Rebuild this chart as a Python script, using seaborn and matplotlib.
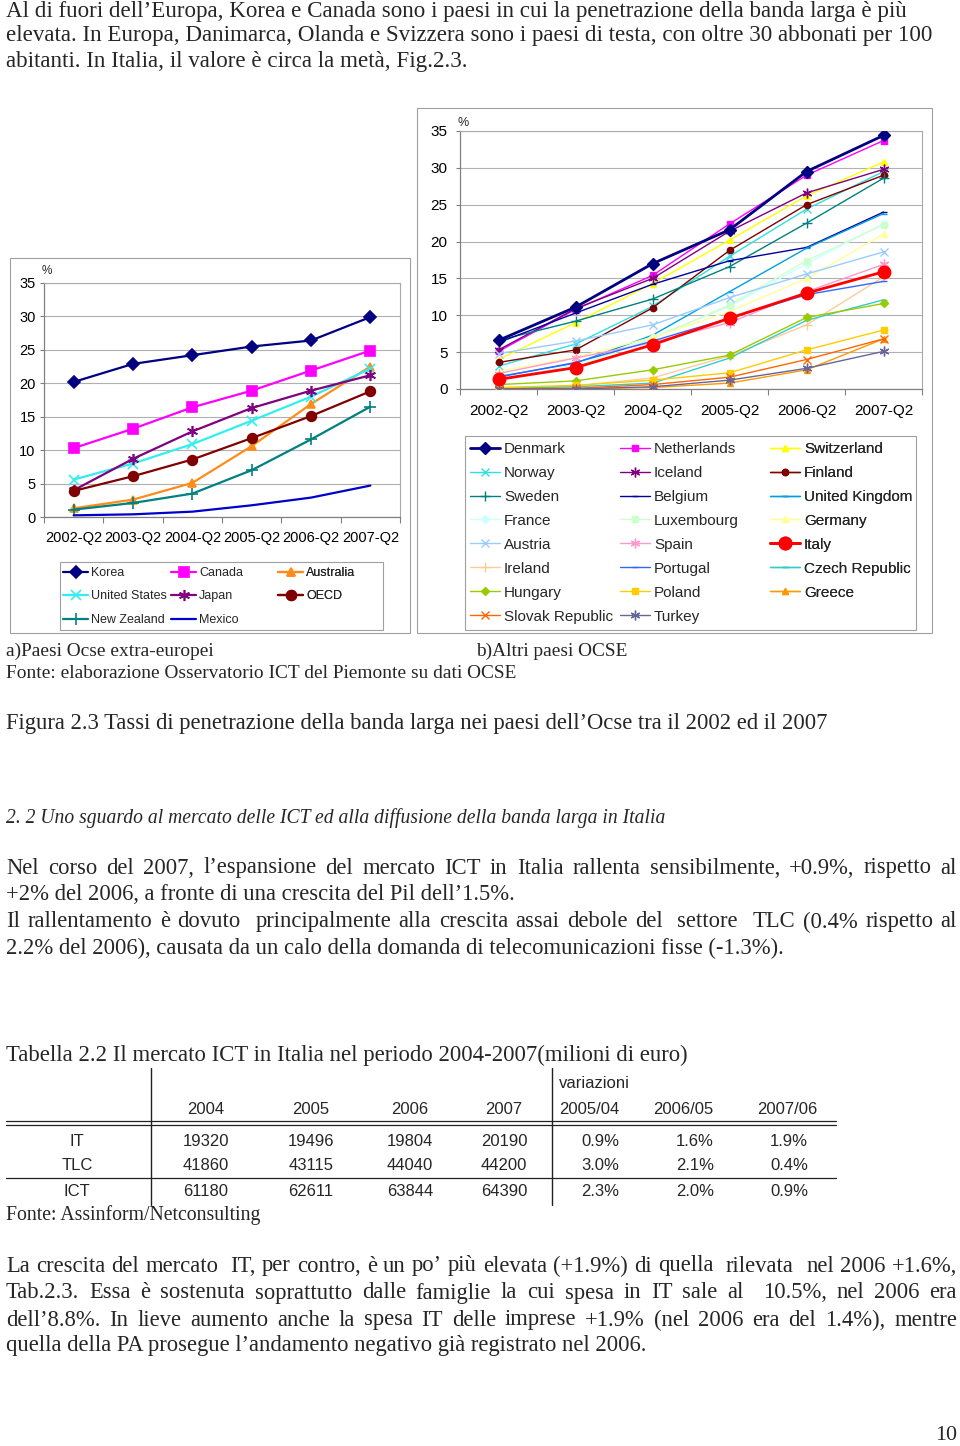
import numpy as np
import pandas as pd
import matplotlib.pyplot as plt
import matplotlib.patches as mpatches
from matplotlib.lines import Line2D
import seaborn as sns

W, H = 960, 1446

quarters = ["2002-Q2", "2003-Q2", "2004-Q2", "2005-Q2", "2006-Q2", "2007-Q2"]

# a) Paesi Ocse extra-europei (abbonati per 100 abitanti)
korea = [20.2, 22.9, 24.2, 25.5, 26.4, 29.9]
canada = [10.3, 13.2, 16.4, 18.9, 21.9, 24.9]
australia = [1.3, 2.6, 5.1, 10.6, 16.9, 22.5]
united_states = [5.6, 8.0, 10.9, 14.4, 18.0, 22.2]
japan = [4.0, 8.7, 12.8, 16.3, 18.9, 21.2]
oecd = [3.9, 6.1, 8.6, 11.8, 15.1, 18.8]
new_zealand = [1.1, 2.1, 3.5, 7.0, 11.6, 16.5]
mexico = [0.25, 0.4, 0.8, 1.75, 2.9, 4.7]

# b) Altri paesi OCSE
denmark = [6.6, 11.1, 17.0, 21.6, 29.5, 34.4]
netherlands = [5.1, 10.8, 15.4, 22.4, 29.0, 33.7]
switzerland = [4.0, 9.0, 14.3, 20.2, 26.2, 30.8]
norway = [3.1, 6.1, 11.2, 18.0, 24.4, 29.5]
iceland = [5.3, 10.9, 15.0, 21.4, 26.6, 29.8]
finland = [3.6, 5.3, 11.0, 18.8, 25.0, 29.0]
sweden = [6.6, 9.2, 12.2, 16.6, 22.5, 28.6]
belgium = [6.3, 10.3, 14.2, 17.4, 19.2, 24.0]
united_kingdom = [1.7, 3.5, 7.3, 13.2, 19.1, 23.8]
france = [1.1, 3.3, 7.0, 11.2, 17.0, 22.4]
luxembourg = [1.4, 3.0, 6.8, 11.4, 17.4, 22.3]
germany = [2.4, 4.3, 7.0, 10.5, 15.0, 21.0]
austria = [4.8, 6.5, 8.7, 12.4, 15.6, 18.6]
spain = [2.1, 4.2, 6.3, 9.0, 13.2, 16.9]
italy = [1.3, 2.9, 6.0, 9.6, 13.0, 15.9]
ireland = [0.1, 0.4, 1.5, 4.5, 8.7, 15.2]
portugal = [1.6, 3.6, 6.5, 9.6, 12.8, 14.6]
czech_republic = [0.1, 0.3, 0.8, 4.2, 9.3, 12.1]
hungary = [0.6, 1.1, 2.6, 4.6, 9.7, 11.6]
poland = [0.2, 0.5, 1.2, 2.2, 5.3, 8.0]
greece = [0.0, 0.05, 0.2, 0.8, 2.6, 6.8]
slovak_republic = [0.0, 0.1, 0.6, 1.6, 4.0, 6.8]
turkey = [0.0, 0.0, 0.3, 1.2, 2.8, 5.1]

# Tabella 2.2
table_years = ["2004", "2005", "2006", "2007"]
table_changes = ["2005/04", "2006/05", "2007/06"]
table_rows = ["IT", "TLC", "ICT"]
it_values = [19320, 19496, 19804, 20190]
tlc_values = [41860, 43115, 44040, 44200]
ict_values = [61180, 62611, 63844, 64390]
it_changes = [0.9, 1.6, 1.9]
tlc_changes = [3.0, 2.1, 0.4]
ict_changes = [2.3, 2.0, 0.9]

sns.set_theme(style="white")
plt.rcParams['font.family'] = ['Liberation Sans', 'DejaVu Sans']

fig = plt.figure(figsize=(W / 100, H / 100), dpi=100)
renderer = fig.canvas.get_renderer()


def fx(x):
    return x / W


def fy(y):
    return 1 - y / H


def width_px(s, size, **kw):
    if not s:
        return 0.0
    t = fig.text(0, 0, s, fontsize=size, **kw)
    w = t.get_window_extent(renderer=renderer).width
    t.remove()
    return w


def fit(s, target, **kw):
    return 12 * target / width_px(s, 12, **kw)


def put(s, x, y, size, ha='left', **kw):
    fig.text(fx(x), fy(y), s, fontsize=size, ha=ha, va='center', **kw)


def justify(s, y, size, x0=6, x1=957, **kw):
    words = s.split(' ')
    ws = [width_px(w, size, **kw) for w in words]
    gap = (x1 - x0 - sum(ws)) / (len(words) - 1)
    x = x0
    for w, wd in zip(words, ws):
        if w:
            put(w, x, y, size, **kw)
        x += wd + gap


def frame(x0, y0, x1, y1, color='#a0a0a0'):
    fig.add_artist(mpatches.Rectangle((fx(x0), fy(y1)), fx(x1) - fx(x0), fy(y0) - fy(y1),
                                      transform=fig.transFigure, fill=False,
                                      edgecolor=color, linewidth=0.8))


def hline(x0, x1, y, lw=1.0):
    fig.add_artist(Line2D([fx(x0), fx(x1)], [fy(y), fy(y)], transform=fig.transFigure,
                          color='#222222', linewidth=lw))


def vline(x, y0, y1, lw=1.0):
    fig.add_artist(Line2D([fx(x), fx(x)], [fy(y0), fy(y1)], transform=fig.transFigure,
                          color='#222222', linewidth=lw))


def style_axes(ax, tick_size, ypad, xpad):
    ax.set_ylim(0, 35)
    ax.set_xlim(-0.5, 5.5)
    ax.set_yticks(range(0, 36, 5))
    ax.set_xticks(range(6))
    ax.set_xticks(np.arange(-0.5, 6, 1), minor=True)
    ax.set_xticklabels(quarters)
    ax.yaxis.grid(True, color='#b0b0b0', linewidth=0.8)
    ax.set_axisbelow(True)
    for side in ['top', 'right']:
        ax.spines[side].set_color('#a8a8a8')
        ax.spines[side].set_linewidth(0.8)
    for side in ['left', 'bottom']:
        ax.spines[side].set_color('#808080')
        ax.spines[side].set_linewidth(0.9)
    ax.tick_params(axis='y', labelsize=tick_size, length=3, width=0.8, color='#808080',
                   pad=ypad, left=True, labelcolor='black')
    ax.tick_params(axis='x', which='major', labelsize=tick_size, length=0, pad=xpad,
                   labelcolor='black')
    ax.tick_params(axis='x', which='minor', length=4, width=0.8, color='#808080', bottom=True)
    ax.set_xlabel('')
    ax.set_ylabel('')


def grid_legend(ax, box, col_x, top_y, size, handlelength, textpad, spacing, ncol=3):
    # Excel-style legend: equal-width columns, entries filled row by row
    frame(*box)
    handles, labels = ax.get_legend_handles_labels()
    for c in range(ncol):
        leg = ax.legend(handles[c::ncol], labels[c::ncol], loc='upper left',
                        bbox_to_anchor=(fx(col_x[c]), fy(top_y)),
                        bbox_transform=fig.transFigure, frameon=False, borderpad=0,
                        borderaxespad=0, handlelength=handlelength, handletextpad=textpad,
                        labelspacing=spacing, prop={'size': size})
        ax.add_artist(leg)


# ---------- a) left chart ----------
frame(10, 258, 410, 633)
axl = fig.add_axes([fx(44), fy(517), fx(400) - fx(44), fy(283) - fy(517)])
left_series = [
    ("Korea", korea, "#000080", "D", 6, 1.6),
    ("Canada", canada, "#ff00ff", "s", 6.5, 1.6),
    ("Australia", australia, "#ff8c1a", "^", 6, 1.6),
    ("United States", united_states, "#33eeee", "x", 7, 1.6),
    ("Japan", japan, "#800080", (6, 2, 0), 8, 1.6),
    ("OECD", oecd, "#800000", "o", 7, 1.6),
    ("New Zealand", new_zealand, "#008080", "+", 8, 1.6),
    ("Mexico", mexico, "#0000cc", "", 0, 1.6),
]
for name, vals, col, mk, ms, lw in left_series:
    sns.lineplot(x=quarters, y=vals, ax=axl, color=col, marker=mk, markersize=ms,
                 markeredgecolor=col, markeredgewidth=1.2, linewidth=lw, label=name, sort=False)
style_axes(axl, 10.5, 3, 10)
axl.legend_ = None
grid_legend(axl, (60, 562, 383, 630), [63, 171, 278], 567, 9, 2.0, 0.25, 0.92)
put("%", 42, 271, 8.5)

# ---------- b) right chart ----------
frame(417, 108, 932, 633)
axr = fig.add_axes([fx(460), fy(389), fx(922) - fx(460), fy(131) - fy(389)])
right_series = [
    ("Denmark", denmark, "#000080", "D", 6.5, 2.0),
    ("Netherlands", netherlands, "#ff00ff", "s", 5, 1.0),
    ("Switzerland", switzerland, "#ffff00", "^", 5, 1.0),
    ("Norway", norway, "#2ee0e0", "x", 5.5, 1.0),
    ("Iceland", iceland, "#800080", (6, 2, 0), 7, 1.0),
    ("Finland", finland, "#800000", "o", 4.5, 1.0),
    ("Sweden", sweden, "#008080", "+", 6.5, 1.0),
    ("Belgium", belgium, "#0000a0", "_", 5, 1.0),
    ("United Kingdom", united_kingdom, "#00a0e0", "_", 5, 1.0),
    ("France", france, "#ccffff", "D", 4, 1.0),
    ("Luxembourg", luxembourg, "#ccffcc", "s", 5, 1.0),
    ("Germany", germany, "#ffff99", "^", 5, 1.0),
    ("Austria", austria, "#99ccff", "x", 5.5, 1.0),
    ("Spain", spain, "#ff99cc", (6, 2, 0), 7, 1.0),
    ("Italy", italy, "#ff0000", "o", 9, 2.0),
    ("Ireland", ireland, "#ffcc99", "+", 6.5, 1.0),
    ("Portugal", portugal, "#3366ff", "_", 5, 1.0),
    ("Czech Republic", czech_republic, "#33cccc", "_", 5, 1.0),
    ("Hungary", hungary, "#99cc00", "D", 4.5, 1.0),
    ("Poland", poland, "#ffcc00", "s", 5, 1.0),
    ("Greece", greece, "#ff9900", "^", 5, 1.0),
    ("Slovak Republic", slovak_republic, "#ff6600", "x", 5.5, 1.0),
    ("Turkey", turkey, "#666699", (6, 2, 0), 7, 1.0),
]
for name, vals, col, mk, ms, lw in right_series:
    z = 5 if lw > 1.5 else 3
    sns.lineplot(x=quarters, y=vals, ax=axr, color=col, marker=mk, markersize=ms,
                 markeredgecolor=col, markeredgewidth=1.0, linewidth=lw, label=name,
                 sort=False, zorder=z)
style_axes(axr, 11, 6, 11)
axr.legend_ = None
grid_legend(axr, (465, 436, 916, 630), [470, 620, 770], 442, 11, 1.96, 0.26, 0.65)
put("%", 458, 123, 9)

# ---------- page text ----------
serif = dict(family=['Liberation Serif', 'DejaVu Serif'])

top_lines = [
    "Al di fuori dell’Europa, Korea e Canada sono i paesi in cui la penetrazione della banda larga è più",
    "elevata. In Europa, Danimarca, Olanda e Svizzera sono i paesi di testa, con oltre 30 abbonati per 100",
    "abitanti. In Italia, il valore è circa la metà, Fig.2.3.",
]
s_top = fit(top_lines[1], 924, **serif)
for line_text, y in zip(top_lines, [11, 36, 61]):
    put(line_text, 6, y, s_top, **serif)

s_src = fit("Fonte: elaborazione Osservatorio ICT del Piemonte su dati OCSE", 509, **serif)
put("a)Paesi Ocse extra-europei", 6, 651, s_src, **serif)
put("b)Altri paesi OCSE", 476, 651, s_src, **serif)
put("Fonte: elaborazione Osservatorio ICT del Piemonte su dati OCSE", 6, 673, s_src, **serif)

caption = "Figura 2.3 Tassi di penetrazione della banda larga nei paesi dell’Ocse tra il 2002 ed il 2007"
put(caption, 6, 724, fit(caption, 819, **serif), **serif)

heading = "2. 2 Uno sguardo al mercato delle ICT ed alla diffusione della banda larga in Italia"
put(heading, 6, 818, fit(heading, 659, style='italic', **serif), style='italic', **serif)

para2 = [
    ("Nel corso del 2007, l’espansione del mercato ICT in Italia rallenta sensibilmente, +0.9%, rispetto al", True),
    ("+2% del 2006, a fronte di una crescita del Pil dell’1.5%.", False),
    ("Il rallentamento è dovuto  principalmente alla crescita assai debole del  settore  TLC (0.4% rispetto al", True),
    ("2.2% del 2006), causata da un calo della domanda di telecomunicazioni fisse (-1.3%).", False),
]
s_p2 = fit(para2[1][0], 509, **serif)
for (line_text, just), y in zip(para2, [868, 895, 922, 948]):
    if just:
        justify(line_text, y, s_p2, **serif)
    else:
        put(line_text, 6, y, s_p2, **serif)

tab_title = "Tabella 2.2 Il mercato ICT in Italia nel periodo 2004-2007(milioni di euro)"
put(tab_title, 6, 1055, fit(tab_title, 680, **serif), **serif)

# table
vline(151, 1068, 1205)
vline(552, 1068, 1205)
hline(6, 836, 1121, 0.9)
hline(6, 836, 1125, 0.9)
hline(6, 836, 1178, 0.9)
tsize = 12
put("variazioni", 559, 1084, tsize)
year_x = [206, 311, 410, 504]
change_left = [559, 653, 757]
change_right = [619, 714, 808]
for yr, x in zip(table_years, year_x):
    put(yr, x, 1110, tsize, ha='center')
for ch, x in zip(table_changes, change_left):
    put(ch, x, 1110, tsize)
row_values = [it_values, tlc_values, ict_values]
row_changes = [it_changes, tlc_changes, ict_changes]
for name, vals, chs, y in zip(table_rows, row_values, row_changes, [1141, 1166, 1192]):
    put(name, 77, y, tsize, ha='center')
    for v, x in zip(vals, year_x):
        put(str(v), x, y, tsize, ha='center')
    for c, x in zip(chs, change_right):
        put(f"{c:.1f}%", x, y, tsize, ha='right')

src2 = "Fonte: Assinform/Netconsulting"
put(src2, 6, 1215, fit(src2, 254, **serif), **serif)

para3 = [
    ("La crescita del mercato  IT, per contro, è un po’ più elevata (+1.9%) di quella  rilevata  nel 2006 +1.6%,", True),
    ("Tab.2.3. Essa è sostenuta soprattutto dalle famiglie la cui spesa in IT sale al  10.5%, nel 2006 era", True),
    ("dell’8.8%. In lieve aumento anche la spesa IT delle imprese +1.9% (nel 2006 era del 1.4%), mentre", True),
    ("quella della PA prosegue l’andamento negativo già registrato nel 2006.", False),
]
s_p3 = fit(para3[3][0], 640, **serif)
for (line_text, just), y in zip(para3, [1266, 1293, 1320, 1346]):
    if just:
        justify(line_text, y, s_p3, **serif)
    else:
        put(line_text, 6, y, s_p3, **serif)

put("10", 957, 1435, fit("10", 22, **serif), ha='right', **serif)

fig.savefig("out.png", dpi=100)
plt.close()
